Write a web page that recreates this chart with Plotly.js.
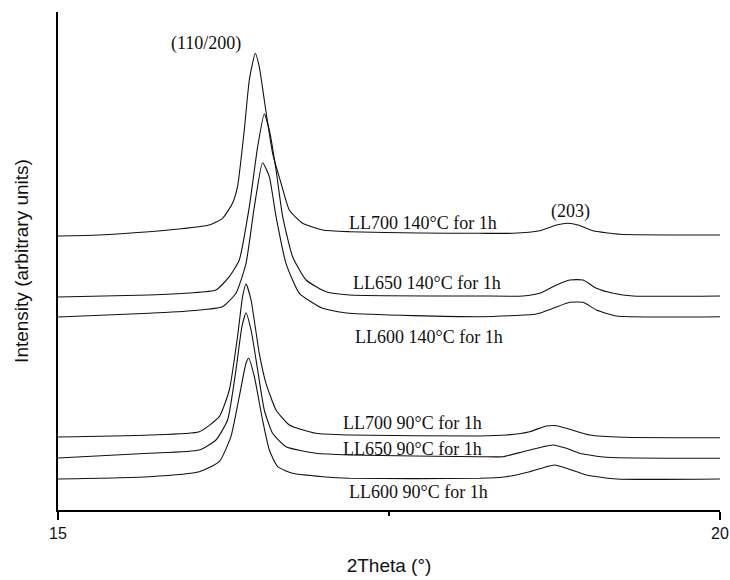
<!DOCTYPE html>
<html>
<head>
<meta charset="utf-8">
<script src="https://cdn.plot.ly/plotly-3.0.1.min.js"></script>
<style>html,body{margin:0;padding:0;background:#fff;}#chart{width:730px;height:580px;}</style>
</head>
<body>
<div id="chart"></div>
<script>
// Series: 2Theta (deg) and stacked intensity (arbitrary units, offsets included)
const seriesNames = ["LL700 140°C for 1h","LL650 140°C for 1h","LL600 140°C for 1h","LL700 90°C for 1h","LL650 90°C for 1h","LL600 90°C for 1h"];

const x_LL700_140 = [15.000,15.310,15.688,15.915,16.142,16.243,16.318,16.356,16.407,16.445,16.490,16.520,16.558,16.621,16.685,16.747,16.848,16.999,17.201,17.731,18.185,18.437,18.638,18.765,18.853,18.928,19.042,19.244,20.000];
const y_LL700_140 = [274,275,278.3,281,285,291.7,306.7,323.3,380,430,456.7,443.3,410,356.7,326.7,300,286.7,280,278.3,277,276.7,276.7,279.3,285,286.7,285,279.3,275.7,275];

const x_LL650_140 = [15.000,15.688,15.990,16.193,16.294,16.369,16.445,16.508,16.558,16.596,16.647,16.697,16.772,16.874,17.025,17.201,18.185,18.512,18.638,18.765,18.865,18.966,19.067,19.193,19.344,20.000];
const y_LL650_140 = [213,215,217,220,233.3,250,303.3,363.3,396,380,340,293.3,253.3,230,218.3,215,214,214,216.7,225,230,230,221.7,216.7,214,214];

const x_LL600_140 = [15.000,15.688,16.030,16.241,16.344,16.420,16.483,16.545,16.596,16.647,16.722,16.823,16.999,17.201,18.185,18.613,18.739,18.865,18.966,19.067,19.218,20.000];
const y_LL600_140 = [193,196.7,199.5,203.3,216.7,246.7,303.3,347.3,333.3,293.3,246.7,216.7,201.7,196.7,193.3,196,201.7,207.7,207.7,200,194,193.3];

const x_LL700_90 = [15.000,15.688,16.067,16.218,16.294,16.356,16.394,16.420,16.458,16.520,16.571,16.647,16.747,16.949,17.201,18.185,18.386,18.563,18.689,18.765,18.865,19.017,19.268,20.000];
const y_LL700_90 = [73,75,78.3,93.3,120,173.3,213.3,226,210,156.7,126.7,100,85,76.7,75,74,75,78.3,84,84.3,80.7,75,72.7,72.3];

const x_LL650_90 = [15.000,15.688,16.067,16.193,16.281,16.344,16.389,16.420,16.458,16.508,16.558,16.621,16.722,16.949,17.201,18.185,18.361,18.512,18.663,18.739,18.840,18.941,19.143,20.000];
const y_LL650_90 = [52,56.7,60,70,90,140,183.3,197.3,180,140,100,76.7,63.3,56.7,55,53.3,53.3,58.3,63.3,65,61.7,56.7,52.7,51.7];

const x_LL600_90 = [15.000,15.688,16.067,16.218,16.306,16.369,16.420,16.440,16.483,16.545,16.596,16.659,16.772,16.999,17.201,18.185,18.386,18.563,18.689,18.752,18.840,18.992,19.218,20.000];
const y_LL600_90 = [31,33.3,38.3,48.3,73.3,113.3,146.7,151.7,133.3,90,60,43.3,36.7,33.3,31.7,31.7,33.3,38.3,43.3,45,41.7,35,31,31];

// Text labels
const peakLabels = ["(110/200)", "(203)"];
const peakLabelX = [16.12, 18.87];
const peakLabelY = [467, 299];
const curveLabelX = [17.76, 17.79, 17.80, 17.68, 17.68, 17.72];
const curveLabelY = [287, 227, 173, 87, 61, 18];

const xs = [x_LL700_140, x_LL650_140, x_LL600_140, x_LL700_90, x_LL650_90, x_LL600_90];
const ys = [y_LL700_140, y_LL650_140, y_LL600_140, y_LL700_90, y_LL650_90, y_LL600_90];

const traces = xs.map((x, i) => ({
  x: x, y: ys[i], type: 'scatter', mode: 'lines', name: seriesNames[i],
  line: {color: '#111', width: 1.1, shape: 'spline', smoothing: 0.5}, showlegend: false, hoverinfo: 'skip'
}));

const serif = {family: '"Liberation Serif", "Times New Roman", serif', size: 18, color: '#111'};
const annotations = [];
seriesNames.forEach((t, i) => annotations.push({
  x: curveLabelX[i], y: curveLabelY[i], xref: 'x', yref: 'y', text: t,
  showarrow: false, font: serif, xanchor: 'center', yanchor: 'middle'
}));
peakLabels.forEach((t, i) => annotations.push({
  x: peakLabelX[i], y: peakLabelY[i], xref: 'x', yref: 'y', text: t,
  showarrow: false, font: serif, xanchor: 'center', yanchor: 'middle'
}));

const layout = {
  width: 730, height: 580,
  margin: {l: 58, r: 10, t: 12, b: 70},
  paper_bgcolor: '#fff', plot_bgcolor: '#fff',
  showlegend: false,
  xaxis: {
    range: [15, 20], showgrid: false, zeroline: false,
    showline: true, linecolor: '#000', linewidth: 2,
    tickmode: 'array', tickvals: [15, 20], ticktext: ['15', '20'],
    ticks: 'outside', ticklen: 8, tickwidth: 2, tickcolor: '#000',
    minor: {tickmode: 'array', tickvals: [17.5], ticks: 'outside', ticklen: 4, tickwidth: 2, tickcolor: '#000', showgrid: false},
    tickfont: {family: '"Liberation Sans", Arial, sans-serif', size: 16, color: '#111'},
    title: {text: '2Theta (°)', font: {family: '"Liberation Sans", Arial, sans-serif', size: 19, color: '#111'}, standoff: 17},
    automargin: false
  },
  yaxis: {
    range: [0, 498], showgrid: false, zeroline: false,
    showline: true, linecolor: '#000', linewidth: 2,
    showticklabels: false, ticks: '',
    title: {text: 'Intensity (arbitrary units)', font: {family: '"Liberation Sans", Arial, sans-serif', size: 19, color: '#111'}, standoff: 22},
    automargin: false
  },
  annotations: annotations
};

Plotly.newPlot('chart', traces, layout, {staticPlot: true, displayModeBar: false});
</script>
</body>
</html>
